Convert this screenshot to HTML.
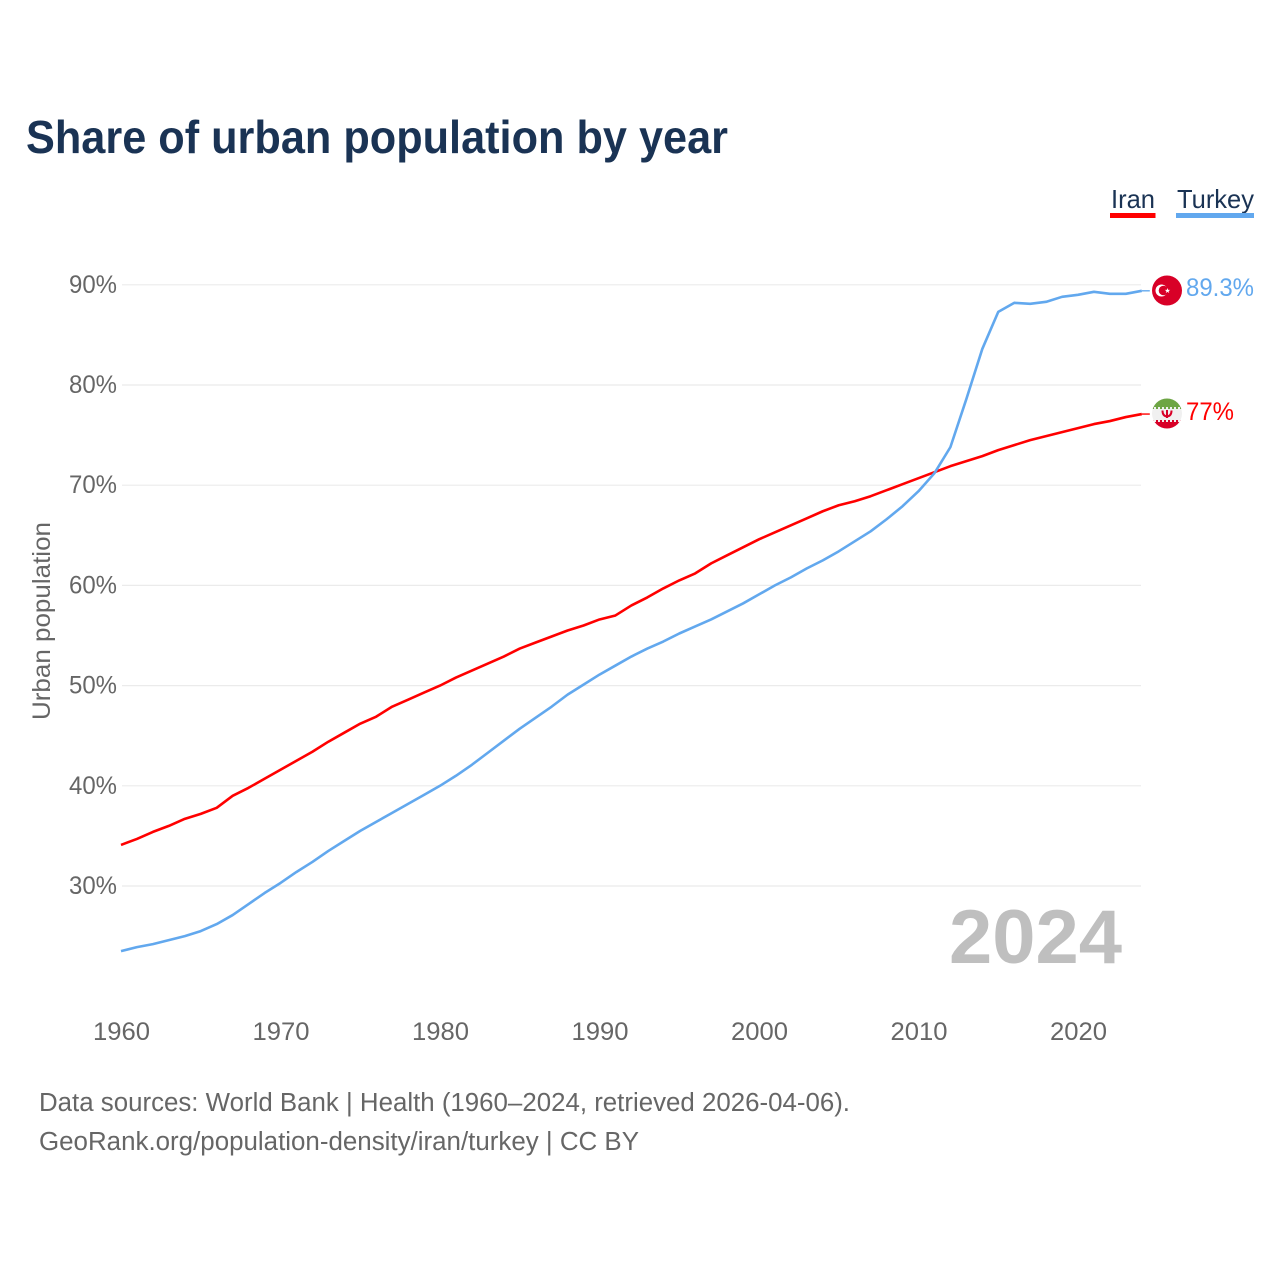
<!DOCTYPE html>
<html lang="en">
<head>
<meta charset="utf-8">
<title>Share of urban population by year</title>
<style>
html,body{margin:0;padding:0;background:#fff;width:1280px;height:1280px;overflow:hidden}
svg{display:block}
text{font-family:"Liberation Sans",sans-serif}
</style>
</head>
<body>
<svg id="chart" xmlns="http://www.w3.org/2000/svg" width="1280" height="1280" viewBox="0 0 1280 1280">
  <rect x="0" y="0" width="1280" height="1280" fill="#ffffff"/>
  <text x="26" y="153" font-size="46" font-weight="700" fill="#1a3354" textLength="702" lengthAdjust="spacingAndGlyphs">Share of urban population by year</text>
  <g id="grid"></g>
  <g id="yticks"></g>
  <g id="xticks"></g>
  <text transform="translate(50,720) rotate(-90)" x="0" y="0" font-size="25" fill="#666666" textLength="198" lengthAdjust="spacingAndGlyphs">Urban population</text>
  <text x="949" y="963" font-size="76" font-weight="700" fill="#bfbfbf" textLength="173" lengthAdjust="spacingAndGlyphs">2024</text>
  <path id="line-iran" fill="none" stroke="#ff0000" stroke-width="2.6" stroke-linejoin="round"/>
  <path id="line-turkey" fill="none" stroke="#62a8ee" stroke-width="2.6" stroke-linejoin="round"/>
  <path id="tail-iran" fill="none" stroke="#ff0000" stroke-width="1.4"/>
  <path id="tail-turkey" fill="none" stroke="#62a8ee" stroke-width="1.4"/>
  <g>
    <text x="1111" y="208" font-size="26" fill="#1a3354" textLength="44" lengthAdjust="spacingAndGlyphs">Iran</text>
    <rect x="1110" y="213" width="45.500" height="5" fill="#ff0000"/>
  </g>
  <g>
    <text x="1177" y="208" font-size="26" fill="#1a3354" textLength="77" lengthAdjust="spacingAndGlyphs">Turkey</text>
    <rect x="1176" y="213" width="78" height="5" fill="#62a8ee"/>
  </g>
  <g>
    <circle cx="1167" cy="290.500" r="15" fill="#d80027"/>
    <circle cx="1161.500" cy="290.500" r="6" fill="#ffffff"/>
    <circle cx="1163.500" cy="290.500" r="4.800" fill="#d80027"/>
    <polygon points="1167.500,288 1168.200,289.900 1170.200,289.900 1168.600,291.100 1169.200,293 1167.500,291.900 1165.800,293 1166.400,291.100 1164.800,289.900 1166.800,289.900" fill="#ffffff"/>
  </g>
  <g>
    <clipPath id="iran-clip"><circle cx="1167" cy="413.500" r="15"/></clipPath>
    <g clip-path="url(#iran-clip)">
      <rect x="1152" y="398" width="30" height="31" fill="#f0f0f0"/>
      <rect x="1152" y="398" width="30" height="9" fill="#6da544"/>
      <rect x="1152" y="422" width="30" height="8" fill="#d80027"/>
      <line x1="1152" x2="1182" y1="408" y2="408" stroke="#6da544" stroke-width="2" stroke-dasharray="2 2"/>
      <line x1="1152" x2="1182" y1="421" y2="421" stroke="#d80027" stroke-width="2" stroke-dasharray="2 2"/>
    </g>
    <path d="M1162.500 410.500 q0 5.500 4.500 6 q4.500 -0.500 4.500 -6 M1167 410 v8" fill="none" stroke="#d80027" stroke-width="2"/>
  </g>
  <text x="1186" y="296" font-size="25" fill="#62a8ee" textLength="68" lengthAdjust="spacingAndGlyphs">89.3%</text>
  <text x="1186" y="420" font-size="25" fill="#ff0000" textLength="48" lengthAdjust="spacingAndGlyphs">77%</text>
  <text x="39" y="1111" font-size="25.500" fill="#666666" textLength="811" lengthAdjust="spacingAndGlyphs">Data sources: World Bank | Health (1960–2024, retrieved 2026-04-06).</text>
  <text x="39" y="1150" font-size="25.500" fill="#666666" textLength="600" lengthAdjust="spacingAndGlyphs">GeoRank.org/population-density/iran/turkey | CC BY</text>
</svg>
<script>
var years = [1960,1961,1962,1963,1964,1965,1966,1967,1968,1969,1970,1971,1972,1973,1974,1975,1976,1977,1978,1979,1980,1981,1982,1983,1984,1985,1986,1987,1988,1989,1990,1991,1992,1993,1994,1995,1996,1997,1998,1999,2000,2001,2002,2003,2004,2005,2006,2007,2008,2009,2010,2011,2012,2013,2014,2015,2016,2017,2018,2019,2020,2021,2022,2023,2024];
var iranValues = [34.1,34.7,35.4,36.0,36.7,37.2,37.8,39.0,39.8,40.7,41.6,42.5,43.4,44.4,45.3,46.2,46.9,47.9,48.6,49.3,50.0,50.8,51.5,52.2,52.9,53.7,54.3,54.9,55.5,56.0,56.6,57.0,58.0,58.8,59.7,60.5,61.2,62.2,63.0,63.8,64.6,65.3,66.0,66.7,67.4,68.0,68.4,68.9,69.5,70.1,70.7,71.3,71.9,72.4,72.9,73.5,74.0,74.5,74.9,75.3,75.7,76.1,76.4,76.8,77.1];
var turkeyValues = [23.5,23.9,24.2,24.6,25.0,25.5,26.2,27.1,28.2,29.3,30.3,31.4,32.4,33.5,34.5,35.5,36.4,37.3,38.2,39.1,40.0,41.0,42.1,43.3,44.5,45.7,46.8,47.9,49.1,50.1,51.1,52.0,52.9,53.7,54.4,55.2,55.9,56.6,57.4,58.2,59.1,60.0,60.8,61.7,62.5,63.4,64.4,65.4,66.6,67.9,69.4,71.2,73.8,78.6,83.6,87.3,88.2,88.1,88.3,88.8,89.0,89.3,89.1,89.1,89.4];
var yTickValues = [30,40,50,60,70,80,90];
var xTickYears = [1960,1970,1980,1990,2000,2010,2020];

var NS = 'http://www.w3.org/2000/svg';
function xScale(year){ return 121 + (year - 1960) * 15.95; }
function yScale(pct){ return 886 - (pct - 30) * 10.02; }

function linePath(values){
  var d = '';
  for (var i = 0; i < values.length; i++) {
    d += (i ? 'L' : 'M') + xScale(years[i]).toFixed(2) + ' ' + yScale(values[i]).toFixed(2);
  }
  return d;
}
function tailPath(values){
  var lastX = xScale(years[years.length - 1]);
  var lastY = yScale(values[values.length - 1]);
  return 'M' + lastX.toFixed(2) + ' ' + lastY.toFixed(2) + 'L' + (lastX + 8).toFixed(2) + ' ' + lastY.toFixed(2);
}
document.getElementById('line-iran').setAttribute('d', linePath(iranValues));
document.getElementById('line-turkey').setAttribute('d', linePath(turkeyValues));
document.getElementById('tail-iran').setAttribute('d', tailPath(iranValues));
document.getElementById('tail-turkey').setAttribute('d', tailPath(turkeyValues));

var grid = document.getElementById('grid');
var yticks = document.getElementById('yticks');
var xticks = document.getElementById('xticks');

yTickValues.forEach(function(v){
  var line = document.createElementNS(NS, 'line');
  
  
  line.setAttribute('x1', 122);
  line.setAttribute('x2', 1141);
  line.setAttribute('y1', yScale(v));
  line.setAttribute('y2', yScale(v));
  line.setAttribute('stroke', '#ebebeb');
  line.setAttribute('stroke-width', 1.2);
  grid.appendChild(line);

  var label = document.createElementNS(NS, 'text');
  
  
  label.setAttribute('x', 117);
  label.setAttribute('y', yScale(v) + 8);
  label.setAttribute('text-anchor', 'end');
  label.setAttribute('font-size', 25);
  label.setAttribute('fill', '#666666');
  label.setAttribute('textLength', 48);
  label.setAttribute('lengthAdjust', 'spacingAndGlyphs');
  label.textContent = v + '%';
  yticks.appendChild(label);
});

xTickYears.forEach(function(y){
  var label = document.createElementNS(NS, 'text');
  
  
  label.setAttribute('x', xScale(y) + 0.5);
  label.setAttribute('y', 1040);
  label.setAttribute('text-anchor', 'middle');
  label.setAttribute('font-size', 25);
  label.setAttribute('fill', '#666666');
  label.setAttribute('textLength', 57);
  label.setAttribute('lengthAdjust', 'spacingAndGlyphs');
  label.textContent = y;
  xticks.appendChild(label);
});
</script>
</body>
</html>
